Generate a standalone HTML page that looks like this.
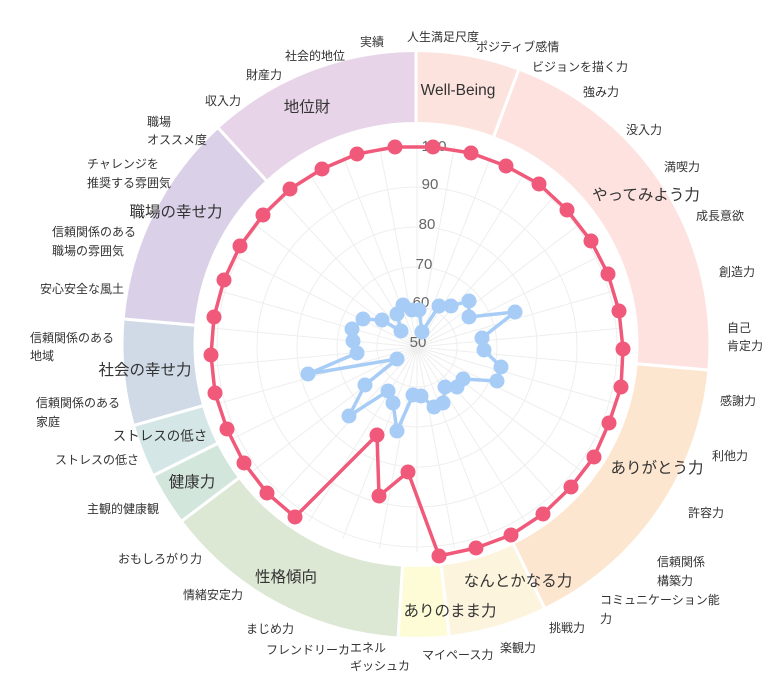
<!DOCTYPE html>
<html><head><meta charset="utf-8"><style>
html,body{margin:0;padding:0;background:#fff;}
svg{display:block;font-family:"Liberation Sans","Noto Sans CJK JP",sans-serif;}
.l{font-size:12px;fill:#333;}
.c{font-size:15.5px;fill:#333;text-anchor:middle;dominant-baseline:middle;}
.t{font-size:15px;fill:#666;text-anchor:middle;dominant-baseline:middle;}
</style></head><body>
<svg id="s" width="768" height="685" viewBox="0 0 768 685" xmlns="http://www.w3.org/2000/svg">
<g id="ring"></g>
<g id="grid" stroke="#eee" stroke-width="1" fill="none"></g>
<text class="t" x="434" y="147">100</text>
<text class="t" x="430" y="185">90</text>
<text class="t" x="427" y="225">80</text>
<text class="t" x="424" y="265">70</text>
<text class="t" x="421" y="303">60</text>
<text class="t" x="418" y="343">50</text>
<g id="data"></g>
<text class="c" x="458" y="91">Well-Being</text>
<text class="c" x="646" y="196">やってみよう力</text>
<text class="c" x="657" y="469">ありがとう力</text>
<text class="c" x="518" y="582">なんとかなる力</text>
<text class="c" x="450" y="612">ありのまま力</text>
<text class="c" x="286" y="578">性格傾向</text>
<text class="c" x="192" y="483">健康力</text>
<text class="c" x="160" y="437" style="font-size:13.5px">ストレスの低さ</text>
<text class="c" x="145" y="371">社会の幸せ力</text>
<text class="c" x="176" y="213">職場の幸せ力</text>
<text class="c" x="307" y="108">地位財</text>
<g class="l">
<text x="407" y="41">人生満足尺度</text>
<text x="476" y="51">ポジティブ感情</text>
<text x="532" y="71">ビジョンを描く力</text>
<text x="583" y="96">強み力</text>
<text x="626" y="134">没入力</text>
<text x="664" y="171">満喫力</text>
<text x="696" y="220">成長意欲</text>
<text x="719" y="276">創造力</text>
<text x="727" y="332">自己</text><text x="727" y="350">肯定力</text>
<text x="720" y="405">感謝力</text>
<text x="712" y="460">利他力</text>
<text x="688" y="517">許容力</text>
<text x="657" y="566">信頼関係</text><text x="657" y="585">構築力</text>
<text x="600" y="604">コミュニケーション能</text><text x="600" y="623">力</text>
<text x="549" y="632">挑戦力</text>
<text x="500" y="652">楽観力</text>
<text x="422" y="659">マイペース力</text>
<text x="350" y="652">エネル</text><text x="350" y="670">ギッシュカ</text>
<text x="266" y="654">フレンドリーカ</text>
<text x="246" y="633">まじめ力</text>
<text x="183" y="599">情緒安定力</text>
<text x="118" y="563">おもしろがり力</text>
<text x="87" y="513">主観的健康観</text>
<text x="55" y="464">ストレスの低さ</text>
<text x="36" y="407">信頼関係のある</text><text x="36" y="426">家庭</text>
<text x="30" y="342">信頼関係のある</text><text x="30" y="360">地域</text>
<text x="40" y="293">安心安全な風土</text>
<text x="52" y="236">信頼関係のある</text><text x="52" y="255">職場の雰囲気</text>
<text x="87" y="168">チャレンジを</text><text x="87" y="187">推奨する雰囲気</text>
<text x="147" y="126">職場</text><text x="147" y="144">オススメ度</text>
<text x="205" y="105">収入力</text>
<text x="246" y="79">財産力</text>
<text x="285" y="60">社会的地位</text>
<text x="360" y="46">実績</text>
</g>
</svg>
<script>
var NS="http://www.w3.org/2000/svg",cx=416,cy=344.5,R=294,r=221;
function P(a,rad){a=a*Math.PI/180;return [cx+rad*Math.sin(a),cy-rad*Math.cos(a)];}
var segs=[[0,20.5,'#fde3de'],[20.5,95,'#fde2e0'],[95,154,'#fde6cf'],[154,173.5,'#fdf4de'],[173.5,183.5,'#fdfcd6'],[183.5,233,'#dce7d4'],[233,243.5,'#d3e6dc'],[243.5,254,'#d4e7e6'],[254,275,'#cfdae6'],[275,317.6,'#dad1e8'],[317.6,360,'#e7d4e8']];
var g=document.getElementById('ring');
segs.forEach(function(s){var a=P(s[0],R),b=P(s[1],R),c=P(s[1],r),d=P(s[0],r),lg=(s[1]-s[0])>180?1:0;
var p=document.createElementNS(NS,'path');p.setAttribute('d','M'+a+' A'+R+' '+R+' 0 '+lg+' 1 '+b+' L'+c+' A'+r+' '+r+' 0 '+lg+' 0 '+d+'Z');
p.setAttribute('fill',s[2]);p.setAttribute('stroke','#fff');p.setAttribute('stroke-width','3');g.appendChild(p);});
var gr=document.getElementById('grid'),gx=417,gy=347;
[40,80,120,160,200].forEach(function(rr){var c=document.createElementNS(NS,'circle');c.setAttribute('cx',gx);c.setAttribute('cy',gy);c.setAttribute('r',rr);gr.appendChild(c);});
for(var i=0;i<34;i++){var a=i*360/34*Math.PI/180;var l=document.createElementNS(NS,'line');l.setAttribute('x1',gx);l.setAttribute('y1',gy);l.setAttribute('x2',gx+205*Math.sin(a));l.setAttribute('y2',gy-205*Math.cos(a));gr.appendChild(l);}
var red=[[433,147],[471,153],[506,166],[539,184],[567,210],[591,241],[608,274],[619,311],[623,349],[621,387],[609,423],[594,457],[571,487],[543,514],[511,535],[476,548],[439,556],[408,472],[379,496],[377,435],[295,517],[267,493],[244,463],[227,429],[215,393],[211,355],[214,317],[224,280],[240,246],[263,215],[290,189],[322,169],[357,154],[395,147]];
var blue=[[422,332],[439,306],[451,306],[469,301],[469,317],[515,312],[482,338],[484,350],[501,367],[497,381],[463,379],[457,387],[445,387],[443,403],[434,407],[421,396],[413,395],[397,431],[393,403],[388,391],[349,416],[365,385],[397,359],[308,374],[357,353],[353,341],[352,329],[363,319],[382,320],[401,331],[397,314],[403,305],[412,310],[419,310]];
var d=document.getElementById('data');
function draw(pts,col){var p=document.createElementNS(NS,'polygon');p.setAttribute('points',pts.map(function(q){return q.join(',')}).join(' '));p.setAttribute('fill','none');p.setAttribute('stroke',col);p.setAttribute('stroke-width','3.5');p.setAttribute('stroke-linejoin','round');d.appendChild(p);
pts.forEach(function(q){var c=document.createElementNS(NS,'circle');c.setAttribute('cx',q[0]);c.setAttribute('cy',q[1]);c.setAttribute('r','7.5');c.setAttribute('fill',col);d.appendChild(c);});}
draw(blue,'#a7cdf7');draw(red,'#f0597a');
</script>
</body></html>
